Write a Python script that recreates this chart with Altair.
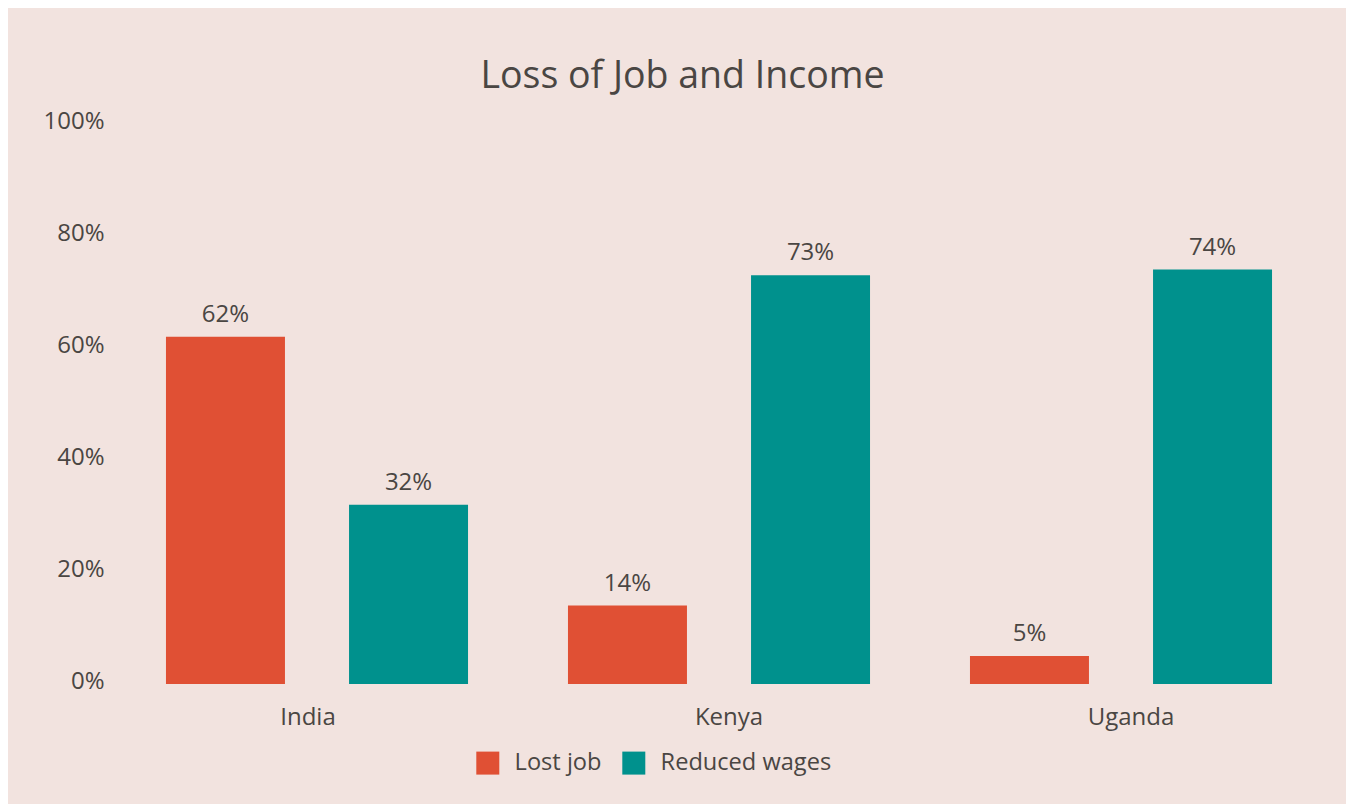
import altair as alt
import pandas as pd

countries = ["India", "Kenya", "Uganda"]
series = ["Lost job", "Reduced wages"]
lost_job = [62, 14, 5]
reduced_wages = [32, 73, 74]
colors = ["#E05034", "#00918D"]
y_ticks = [0, 20, 40, 60, 80, 100]

rows = []
for i, c in enumerate(countries):
    rows.append({"country": c, "series": series[0], "value": lost_job[i], "label": f"{lost_job[i]}%"})
    rows.append({"country": c, "series": series[1], "value": reduced_wages[i], "label": f"{reduced_wages[i]}%"})
df = pd.DataFrame(rows)

TEXT = "#4A4643"
FONT = "Open Sans"
FS = 24

x = alt.X("country:N", sort=countries, title=None,
          scale=alt.Scale(paddingInner=0, paddingOuter=0),
          axis=alt.Axis(labelAngle=0, labelFontSize=FS, labelColor=TEXT, labelFont=FONT,
                        labelPadding=21, ticks=False, domain=False,
                        labelOffset={"condition": {"test": "datum.value == 'India'", "value": -9},
                                     "value": 10}))
xo = alt.XOffset("series:N", sort=series,
                 scale=alt.Scale(paddingInner=0.35, paddingOuter=0.273))
y = alt.Y("value:Q", title=None,
          scale=alt.Scale(domain=[0, 100], nice=False, zero=True),
          axis=alt.Axis(values=y_ticks, labelExpr="datum.value + '%'", labelFontSize=FS,
                        labelColor=TEXT, labelFont=FONT, labelPadding=12, grid=False,
                        ticks=False, domain=False, labelOffset=-2.5))

bars = alt.Chart(df).mark_bar().encode(
    x=x, xOffset=xo, y=y,
    color=alt.Color("series:N", sort=series, title=None,
                    scale=alt.Scale(domain=series, range=colors),
                    legend=alt.Legend(orient="none", direction="horizontal",
                                      legendX=360, legendY=627,
                                      symbolType="square", symbolSize=529,
                                      symbolStrokeWidth=0, symbolOpacity=1,
                                      labelFontSize=23.6, labelColor=TEXT, labelFont=FONT,
                                      labelLimit=0,
                                      labelOffset=15, columnPadding=20)),
)

labels = alt.Chart(df).mark_text(baseline="bottom", dy=-10, fontSize=FS, font=FONT, color=TEXT).encode(
    x=x, xOffset=xo, y=y, text="label:N"
)

chart = (bars + labels).properties(
    width=1206, height=560,
    title=alt.Title("Loss of Job and Income", fontSize=37.5, font=FONT, color=TEXT,
                    fontWeight="normal", anchor="middle", frame="bounds", offset=14),
    padding={"left": 108, "top": 116, "right": 24, "bottom": 120},
    autosize=alt.AutoSizeParams(type="none"),
).configure(background="#F2E3DF").configure_view(stroke=None)

chart.save("out.html", embed_options={"renderer": "svg", "actions": False})
